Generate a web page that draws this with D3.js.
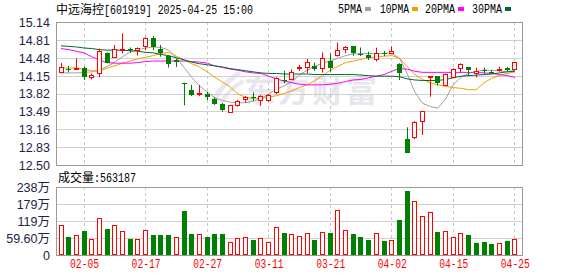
<!DOCTYPE html>
<html><head><meta charset="utf-8">
<script src="https://cdn.jsdelivr.net/npm/d3@7/dist/d3.min.js"></script>
<style>body{margin:0;background:#fff}svg{display:block}</style>
</head><body>
<svg id="c" width="578" height="276"></svg>
<script>
const dates = ["01-23","01-24","01-27","02-05","02-06","02-07","02-10","02-11","02-12","02-13",
"02-14","02-17","02-18","02-19","02-20","02-21","02-24","02-25","02-26","02-27",
"02-28","03-03","03-04","03-05","03-06","03-07","03-10","03-11","03-12","03-13",
"03-14","03-17","03-18","03-19","03-20","03-21","03-24","03-25","03-26","03-27",
"03-28","03-31","04-01","04-02","04-03","04-07","04-08","04-09","04-10","04-11",
"04-14","04-15","04-16","04-17","04-18","04-21","04-22","04-23","04-24","04-25"];
const open  = [14.21,14.28,14.28,14.285,14.12,14.19,14.57,14.50,14.64,14.64,
14.62,14.70,14.84,14.635,14.51,14.43,14.02,13.885,13.82,13.81,
13.72,13.62,13.485,13.608,13.725,13.75,13.70,13.70,13.854,14.07,
14.082,14.30,14.315,14.328,14.285,14.42,14.53,14.64,14.697,14.55,
14.525,14.457,14.56,14.56,14.365,12.98,13.023,13.306,14.12,14.143,
13.977,14.13,14.285,14.303,14.192,14.245,14.226,14.27,14.297,14.266];
const close = [14.31,14.27,14.29,14.12,14.155,14.61,14.39,14.65,14.65,14.63,
14.66,14.84,14.67,14.56,14.37,14.41,14.01,13.79,13.83,13.755,
13.626,13.515,13.60,13.688,13.762,13.73,13.774,13.79,14.10,14.06,
14.223,14.31,14.395,14.266,14.47,14.297,14.623,14.685,14.56,14.54,
14.48,14.56,14.55,14.605,14.19,12.73,13.288,13.497,14.135,14.02,
14.174,14.266,14.358,14.254,14.241,14.235,14.22,14.275,14.26,14.395];
const high  = [14.38,14.33,14.47,14.315,14.19,14.65,14.58,14.715,14.93,14.67,
14.67,14.857,14.88,14.715,14.53,14.47,14.02,13.98,13.977,13.85,
13.75,13.65,13.61,13.70,13.774,13.84,13.79,13.81,14.12,14.24,
14.266,14.35,14.457,14.39,14.58,14.56,14.76,14.70,14.70,14.67,
14.59,14.666,14.605,14.69,14.38,13.195,13.31,13.50,14.145,14.143,
14.19,14.285,14.377,14.31,14.297,14.297,14.254,14.315,14.315,14.395];
const low   = [14.205,14.21,14.28,14.07,14.08,14.12,14.38,14.49,14.56,14.57,
14.52,14.62,14.62,14.50,14.30,14.31,13.60,13.775,13.77,13.70,
13.608,13.485,13.466,13.577,13.651,13.68,13.59,13.67,13.81,14.01,
14.07,14.24,14.19,14.24,14.205,14.22,14.50,14.56,14.52,14.51,
14.44,14.41,14.51,14.55,14.07,12.72,12.974,13.054,13.76,13.965,
13.965,14.112,14.205,14.143,14.118,14.192,14.18,14.223,14.23,14.241];
// volume in 万手
const volume = [103.5,62.8,68.6,83.7,54.7,131.4,90.7,103.5,82.6,55.8,
54.7,86.1,69.8,69.8,69.8,62.8,153.5,73.3,72.1,62.8,
73.3,73.3,44.2,58.1,62.8,52.3,58.1,45.4,97.7,76.8,
72.1,65.1,75.6,52.3,80.2,76.8,157.0,86.1,73.3,62.8,
52.3,75.6,48.8,51.2,122.1,223.3,188.4,138.4,152.3,80.2,
82.6,62.8,75.6,69.8,41.9,45.4,38.4,40.7,48.8,56.3187];
const volUp = [1,0,1,0,1,1,0,1,1,0, 1,1,0,0,0,1,0,0,1,0, 0,0,1,1,1,0,1,1,1,0,
1,1,1,0,1,0,1,1,0,0, 0,1,0,1,0,0,1,1,1,0, 1,1,1,0,0,0,0,1,0,1];
const ma5 = [14.20,14.20,14.20,14.21,14.22,14.26,14.32,14.40,14.50,14.59,
14.63,14.66,14.68,14.67,14.62,14.48,14.30,14.12,13.96,13.85,
13.74,13.69,13.66,13.65,13.65,13.68,13.73,13.81,13.90,13.96,
14.04,14.16,14.25,14.32,14.38,14.42,14.47,14.52,14.55,14.56,
14.56,14.56,14.56,14.56,14.47,14.19,13.85,13.64,13.58,13.55,
13.72,13.98,14.12,14.19,14.23,14.25,14.25,14.24,14.22,14.25];
const ma10 = [14.29,14.29,14.29,14.27,14.24,14.23,14.29,14.33,14.38,14.42,
14.46,14.49,14.52,14.56,14.58,14.51,14.44,14.37,14.31,14.22,
14.12,14.03,13.94,13.81,13.75,13.73,13.73,13.75,13.78,13.82,
13.87,13.93,13.98,14.06,14.15,14.25,14.32,14.39,14.42,14.45,
14.48,14.50,14.51,14.52,14.47,14.32,14.17,14.08,14.02,13.98,
13.95,13.93,13.915,13.89,13.89,14.02,14.10,14.15,14.19,14.22];
const ma20 = [14.65,14.63,14.60,14.57,14.50,14.44,14.39,14.38,14.38,14.38,
14.39,14.41,14.42,14.42,14.42,14.42,14.42,14.41,14.40,14.38,
14.33,14.30,14.27,14.25,14.22,14.20,14.19,14.14,14.09,14.05,
14.02,13.99,13.98,13.98,13.98,13.99,14.01,14.04,14.07,14.08,
14.11,14.14,14.17,14.23,14.28,14.27,14.23,14.21,14.21,14.21,
14.21,14.21,14.21,14.21,14.21,14.20,14.19,14.17,14.15,14.12];
const ma30 = [14.70,14.69,14.68,14.66,14.65,14.63,14.62,14.62,14.62,14.61,
14.60,14.58,14.57,14.54,14.52,14.48,14.44,14.40,14.37,14.35,
14.33,14.31,14.28,14.26,14.24,14.22,14.20,14.19,14.19,14.18,
14.18,14.18,14.18,14.17,14.17,14.17,14.17,14.17,14.17,14.16,
14.15,14.14,14.14,14.14,14.13,14.09,14.07,14.06,14.06,14.06,
14.08,14.11,14.14,14.15,14.16,14.17,14.18,14.20,14.22,14.23];
const priceTicks = [12.50,12.83,13.16,13.49,13.82,14.15,14.48,14.81,15.14];
const volTicks = [0,59.6,119.2,178.8,238.4];
const volTickLabels = ["0","59.60万","119万","179万","238万"];
const xLabels = ["02-05","02-17","02-27","03-11","03-21","04-02","04-15","04-25"];
const maNames = ["5PMA","10PMA","20PMA","30PMA"];
const maColors = ["#a0a0a0","#f0a000","#ff00ff","#006b2e"];
const titleName = "中远海控";
const titleRest = "[601919] 2025-04-25 15:00";
const volTitle = "成交量";
const volLast = ":563187";

const UP = "#ff0000", DOWN = "#008000";
const L = 56, R = 522, PT = 22, PB = 165, VT = 187, VB = 255;
const svg = d3.select("#c");
const x = d3.scalePoint().domain(dates).range([60.5, 514.3]);
const y = d3.scaleLinear().domain([12.50, 15.14]).range([PB, PT]);
const yv = d3.scaleLinear().domain([0, 238.4]).range([VB, VT]);
const cx = d => Math.round(x(d));

const labelColor = "#1e2448";
const numFont = "'Liberation Sans', Arial, sans-serif";
const monoFont = "'Liberation Mono', 'DejaVu Sans Mono', monospace";
const cjkFont = "'Noto Sans CJK SC', sans-serif";

// Watermark (logo swoosh + brand text)
const wm = svg.append("g").attr("fill", "none").attr("stroke", "#e8e8ee").attr("stroke-linecap", "round");
wm.append("path").attr("d", "M214,100 C220,88 228,80 238,74").attr("stroke-width", 5);
wm.append("path").attr("d", "M222,101 C228,92 234,86 242,82").attr("stroke-width", 4);
svg.append("text").attr("x", 244).attr("y", 102).attr("font-family", cjkFont)
  .attr("font-weight", "bold").attr("font-size", 31).attr("fill", "#e6e6ec")
  .attr("letter-spacing", 3).text("东方财富");

function panel(top, bottom, ticks, scale) {
  const g = svg.append("g");
  g.selectAll("line.h").data(ticks.slice(1, -1)).join("line")
    .attr("x1", L).attr("x2", R)
    .attr("y1", d => Math.round(scale(d)) + 0.5).attr("y2", d => Math.round(scale(d)) + 0.5)
    .attr("stroke", "#d0d0d0");
  g.selectAll("line.v").data(xLabels).join("line")
    .attr("x1", d => cx(d) + 0.5).attr("x2", d => cx(d) + 0.5)
    .attr("y1", top).attr("y2", bottom)
    .attr("stroke", "#c8c8c8").attr("stroke-dasharray", "3,3");
  g.append("rect").attr("x", L + 0.5).attr("y", top + 0.5)
    .attr("width", R - L).attr("height", bottom - top)
    .attr("fill", "none").attr("stroke", "#9a9a9a");
}
panel(PT, PB, priceTicks, y);
panel(VT, VB, volTicks, yv);

// axes labels
const ay = svg.append("g").attr("transform", `translate(${L - 3},0)`)
  .call(d3.axisLeft(y).tickValues(priceTicks).tickFormat(d3.format(".2f")).tickSize(0));
ay.select(".domain").remove();
ay.selectAll("text").attr("font-family", numFont).attr("font-size", 12.5).attr("fill", labelColor).attr("dy", "0.35em");

const av = svg.append("g").attr("transform", `translate(${L - 3},0)`)
  .call(d3.axisLeft(yv).tickValues(volTicks).tickFormat((d, i) => volTickLabels[i]).tickSize(0));
av.select(".domain").remove();
av.selectAll("text").attr("font-family", numFont + ", " + cjkFont).attr("font-size", 12.5).attr("fill", labelColor).attr("dy", "0.35em");

const ax = svg.append("g").attr("transform", `translate(0.5,${VB})`)
  .call(d3.axisBottom(x).tickValues(xLabels).tickSize(0));
ax.select(".domain").remove();
ax.selectAll("text").attr("font-family", monoFont).attr("font-size", 12).attr("fill", "#ff0000")
  .attr("y", 4).attr("dy", "0.71em").attr("textLength", 29).attr("lengthAdjust", "spacingAndGlyphs");

// MA lines
const mas = [ma5, ma10, ma20, ma30];
mas.forEach((arr, k) => {
  const line = d3.line().x((v, i) => x(dates[i]) + 0.5).y(v => y(v));
  svg.append("path").attr("d", line(arr)).attr("fill", "none")
    .attr("stroke", maColors[k]).attr("stroke-width", 1);
});

// candles
const idx = d3.range(dates.length);
const cg = svg.append("g");
idx.forEach(i => {
  const d = dates[i], c = cx(d);
  const up = close[i] >= open[i];
  const col = up ? UP : DOWN;
  cg.append("line").attr("x1", c + 0.5).attr("x2", c + 0.5)
    .attr("y1", y(high[i])).attr("y2", y(low[i])).attr("stroke", col);
  const yt = y(Math.max(open[i], close[i])), yb = y(Math.min(open[i], close[i]));
  if (up) {
    const t = Math.round(yt) + 0.5, b = Math.max(Math.round(yb) + 0.5, t + 1);
    cg.append("rect").attr("x", c - 1.5).attr("y", t).attr("width", 4).attr("height", b - t)
      .attr("fill", "#fff").attr("stroke", col);
  } else {
    const t = Math.round(yt), b = Math.max(Math.round(yb), t + 1);
    cg.append("rect").attr("x", c - 2).attr("y", t).attr("width", 5).attr("height", b - t)
      .attr("fill", col);
  }
});

// volume bars
const vg = svg.append("g");
idx.forEach(i => {
  const c = cx(dates[i]);
  const t = Math.round(yv(volume[i]));
  if (volUp[i]) {
    vg.append("rect").attr("x", c - 1.5).attr("y", t + 0.5).attr("width", 4).attr("height", VB - t - 1)
      .attr("fill", "#fff").attr("stroke", UP);
  } else {
    vg.append("rect").attr("x", c - 2).attr("y", t).attr("width", 5).attr("height", VB - t)
      .attr("fill", DOWN);
  }
});

// title
const tt = svg.append("text").attr("x", 56).attr("y", 14).attr("font-size", 12).attr("fill", "#000");
tt.append("tspan").attr("font-family", cjkFont).text(titleName);
tt.append("tspan").attr("font-family", monoFont).attr("textLength", 149)
  .attr("lengthAdjust", "spacingAndGlyphs").text(titleRest);

// legend
const legX = [338, 380, 425, 472];
const legW = [24, 29, 30, 30];
maNames.forEach((n, k) => {
  svg.append("text").attr("x", legX[k]).attr("y", 13).attr("font-family", monoFont)
    .attr("font-size", 12).attr("textLength", legW[k]).attr("lengthAdjust", "spacingAndGlyphs")
    .attr("fill", "#000").text(n);
  svg.append("rect").attr("x", legX[k] + legW[k] + 3).attr("y", 7).attr("width", 6).attr("height", 4)
    .attr("fill", maColors[k]);
});

// volume title
const vt = svg.append("text").attr("x", 58).attr("y", 182).attr("font-size", 12).attr("fill", "#000");
vt.append("tspan").attr("font-family", cjkFont).text(volTitle);
vt.append("tspan").attr("font-family", monoFont).attr("textLength", 42)
  .attr("lengthAdjust", "spacingAndGlyphs").text(volLast);
</script>
</body></html>
